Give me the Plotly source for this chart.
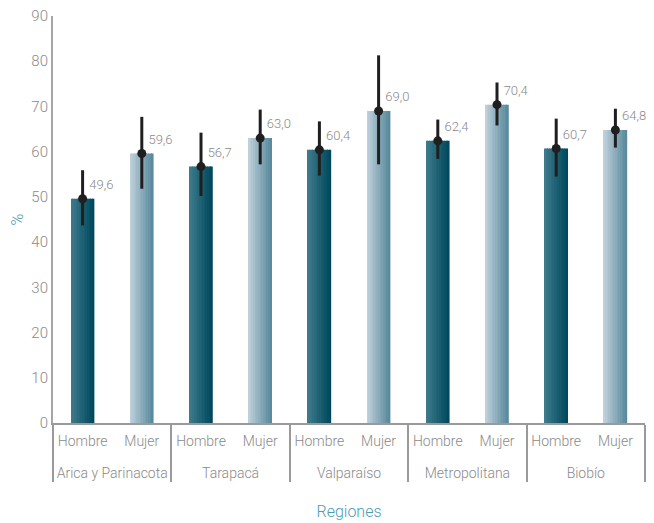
import plotly.graph_objects as go

regiones = ["Arica y Parinacota", "Arica y Parinacota", "Tarapacá", "Tarapacá",
            "Valparaíso", "Valparaíso", "Metropolitana", "Metropolitana", "Biobío", "Biobío"]
sexo = ["Hombre", "Mujer"] * 5
valores = [49.6, 59.6, 56.7, 63.0, 60.4, 69.0, 62.4, 70.4, 60.7, 64.8]
ic_inf = [43.7, 51.8, 50.2, 57.2, 54.7, 57.2, 58.4, 65.8, 54.5, 60.9]
ic_sup = [55.9, 67.7, 64.2, 69.3, 66.7, 81.3, 67.1, 75.3, 67.3, 69.5]

hombre_grad = ((62, 122, 140), (0, 73, 93))
mujer_grad = ((190, 208, 218), (90, 138, 157))

def mix(c0, c1, t):
    return "rgb(%d,%d,%d)" % tuple(round(a + (b - a) * t) for a, b in zip(c0, c1))

x = [["<br>" + r for r in regiones], sexo]
fig = go.Figure()
N = 14
W = 0.39
for i in range(N):
    t = i / (N - 1)
    cols = [mix(*(hombre_grad if s == "Hombre" else mujer_grad), t) for s in sexo]
    fig.add_trace(go.Bar(
        x=x, y=valores, width=W / N + 0.004, offset=-W / 2 + i * W / N,
        marker=dict(color=cols, line=dict(width=0)),
        showlegend=False, hoverinfo="skip"))

err_plus = [h - v for h, v in zip(ic_sup, valores)]
err_minus = [v - l for v, l in zip(valores, ic_inf)]
labels = [f"{v:.1f}".replace(".", ",") for v in valores]

fig.add_trace(go.Scatter(
    x=x, y=valores, mode="markers+text",
    marker=dict(color="#1f1f1f", size=9),
    error_y=dict(type="data", symmetric=False, array=err_plus, arrayminus=err_minus,
                 color="#1f1f1f", thickness=3, width=0),
    text=labels, textposition="top right", cliponaxis=False,
    textfont=dict(size=13, color="#8a8a8a", family="Roboto", weight=300),
    showlegend=False))

fig.update_layout(
    width=646, height=515,
    margin=dict(l=45, r=9, t=8, b=100),
    plot_bgcolor="white", paper_bgcolor="white",
    barmode="overlay",
    font=dict(family="Roboto", color="#8a8a8a", size=14, weight=300),
    xaxis=dict(
        type="multicategory", automargin=False, tickangle=0, ticklabelstandoff=4,
        range=[-0.5, 9.5],
        showline=True, linecolor="#9a9a9a", linewidth=2,
        showgrid=False, ticks="",
        dividercolor="#9a9a9a", dividerwidth=1.5,
        tickfont=dict(size=14, color="#8a8a8a", family="Roboto", weight=300),
        title=dict(text="Regiones", font=dict(size=16, color="#4d9cb2", family="Roboto", weight=300), standoff=26),
    ),
    yaxis=dict(
        range=[0, 90], dtick=10, automargin=False, ticklabeloverflow="allow",
        showline=True, linecolor="#a6a6a6", linewidth=2,
        showgrid=False, zeroline=False, ticks="",
        tickfont=dict(size=15, color="#8a8a8a", family="Roboto", weight=300),
        title=dict(text="%", font=dict(size=16, color="#4d9cb2", family="Roboto", weight=300), standoff=15),
    ),
)

fig.write_html("out.html")
